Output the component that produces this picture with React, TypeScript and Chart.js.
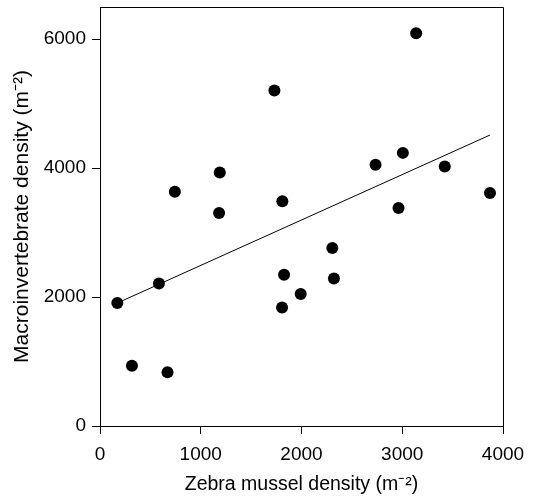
import React, { useEffect, useRef } from "react";
import { Chart, registerables } from "chart.js";

Chart.register(...registerables);

const musselDensity = [172, 317, 585, 670, 743, 1182, 1189, 1731, 1807, 1810, 1827, 1992, 2306, 2322, 2735, 2963, 3006, 3138, 3422, 3871];
const macroDensity = [1907, 933, 2211, 835, 3634, 3304, 3933, 5206, 1840, 3485, 2345, 2046, 2763, 2289, 4052, 3381, 4237, 6093, 4026, 3613];
const fitX = [172, 3871];
const fitY = [1908, 4514];
const xTicks = [0, 1000, 2000, 3000, 4000];
const yTicks = [0, 2000, 4000, 6000];

const FONT = "'Liberation Sans', Arial, sans-serif";

const boxPlugin = {
  id: "boxFrame",
  afterDatasetsDraw(chart: any) {
    const { ctx, chartArea } = chart;
    ctx.save();
    ctx.strokeStyle = "#000";
    ctx.lineWidth = 1;
    ctx.beginPath();
    ctx.moveTo(chartArea.left, chartArea.top + 0.5);
    ctx.lineTo(chartArea.right + 0.5, chartArea.top + 0.5);
    ctx.lineTo(chartArea.right + 0.5, chartArea.bottom);
    ctx.stroke();
    ctx.restore();
  },
};

export default function App() {
  const ref = useRef<HTMLCanvasElement | null>(null);
  useEffect(() => {
    if (!ref.current) return;
    const points = musselDensity.map((x, i) => ({ x, y: macroDensity[i] }));
    const line = fitX.map((x, i) => ({ x, y: fitY[i] }));
    const chart = new Chart(ref.current, {
      type: "scatter",
      data: {
        datasets: [
          {
            type: "line",
            data: line,
            borderColor: "#000",
            borderWidth: 1,
            pointRadius: 0,
            fill: false,
          } as any,
          {
            data: points,
            backgroundColor: "#000",
            borderWidth: 0,
            pointRadius: 6,
            pointHoverRadius: 6,
          },
        ],
      },
      options: {
        animation: false,
        responsive: true,
        maintainAspectRatio: false,
        layout: { padding: { top: 7, right: 46, bottom: 0, left: 0 } },
        plugins: { legend: { display: false }, tooltip: { enabled: false } },
        scales: {
          x: {
            type: "linear",
            min: 0,
            max: 4000,
            afterFit: (s: any) => {
              s.height = 78;
              s.paddingLeft = 0;
              s.paddingRight = 0;
            },
            afterBuildTicks: (s: any) => {
              s.ticks = xTicks.map((v) => ({ value: v }));
            },
            ticks: {
              callback: (v: any) => String(v),
              color: "#000",
              font: { family: FONT, size: 19 },
              padding: 9,
              maxRotation: 0,
              includeBounds: false,
            },
            grid: { display: true, drawOnChartArea: false, tickLength: 8, color: "#000" },
            border: { display: true, color: "#000", width: 1 },
            title: {
              display: true,
              text: "Zebra mussel density (m⁻²)",
              color: "#000",
              font: { family: FONT, size: 19.5 },
              padding: { top: 0, bottom: 8 },
            },
          },
          y: {
            type: "linear",
            min: 0,
            max: 6500,
            afterFit: (s: any) => {
              s.width = 100;
              s.paddingTop = 0;
              s.paddingBottom = 0;
            },
            afterBuildTicks: (s: any) => {
              s.ticks = yTicks.map((v) => ({ value: v }));
            },
            ticks: {
              callback: (v: any) => String(v),
              color: "#000",
              font: { family: FONT, size: 19 },
              padding: 6,
              includeBounds: false,
            },
            grid: { display: true, drawOnChartArea: false, tickLength: 8, color: "#000" },
            border: { display: true, color: "#000", width: 1 },
            title: {
              display: true,
              text: "Macroinvertebrate density (m⁻²)",
              color: "#000",
              font: { family: FONT, size: 21 },
              padding: { top: 10, bottom: 0 },
            },
          },
        },
      },
      plugins: [boxPlugin],
    });
    return () => chart.destroy();
  }, []);
  return (
    <div style={{ position: "fixed", left: 0, top: 0, width: 549, height: 504, background: "#fff" }}>
      <canvas ref={ref} />
    </div>
  );
}
